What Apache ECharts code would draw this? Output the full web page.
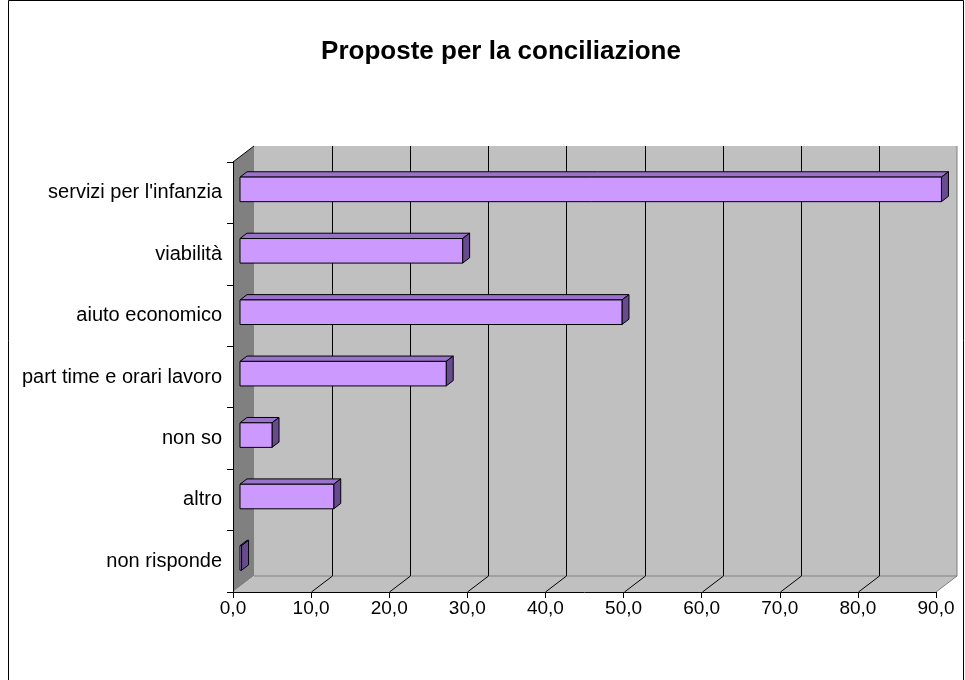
<!DOCTYPE html>
<html><head><meta charset="utf-8">
<script src="https://cdn.jsdelivr.net/npm/echarts@6/dist/echarts.min.js"></script>
<style>html,body{margin:0;padding:0;background:#fff}#c{width:965px;height:680px}</style>
</head><body><div id="c"></div>
<script>
const categories = ["servizi per l'infanzia", "viabilità", "aiuto economico", "part time e orari lavoro", "non so", "altro", "non risponde"];
const values = [89.8, 28.5, 48.9, 26.4, 4.1, 12.0, 0.2];
const xTicks = [0, 10, 20, 30, 40, 50, 60, 70, 80, 90];

const DX = 21, DY = -16;          // depth of the 3D box (back wall offset)
const FONT = "'Liberation Sans', Arial, sans-serif";
const fmt = v => v.toFixed(1).replace('.', ',');

const chart = echarts.init(document.getElementById('c'), null, { renderer: 'canvas' });

// walls: back wall, left side wall and floor
function renderWalls(params, api) {
  const cs = params.coordSys;
  const x0 = cs.x, y0 = cs.y, x1 = cs.x + cs.width, y1 = cs.y + cs.height;
  return {
    type: 'group',
    children: [
      { type: 'polygon', shape: { points: [[x0 + DX, y0 + DY], [x1 + DX, y0 + DY], [x1 + DX, y1 + DY], [x0 + DX, y1 + DY]] },
        style: { fill: '#c0c0c0', stroke: null } },
      { type: 'polygon', shape: { points: [[x0, y0], [x0 + DX, y0 + DY], [x0 + DX, y1 + DY], [x0, y1]] },
        style: { fill: '#808080', stroke: null } },
      { type: 'polygon', shape: { points: [[x0, y1], [x0 + DX, y1 + DY], [x1 + DX, y1 + DY], [x1, y1]] },
        style: { fill: '#c0c0c0', stroke: null } },
      { type: 'polyline', shape: { points: [[x0 + DX, y1 + DY], [x1 + DX, y1 + DY], [x1, y1]] },
        style: { stroke: '#808080', lineWidth: 1, fill: null } },
      { type: 'line', shape: { x1: x1 + DX, y1: y0 + DY, x2: x1 + DX, y2: y1 + DY },
        style: { stroke: '#808080', lineWidth: 1 } },
      { type: 'line', shape: { x1: x0, y1: y0, x2: x0 + DX, y2: y0 + DY },
        style: { stroke: '#000', lineWidth: 1 } }
    ]
  };
}

// grid lines on the back wall and their diagonals across the floor
function renderGridLine(params, api) {
  const cs = params.coordSys;
  const v = api.value(0);
  const x = Math.round(api.coord([v, 0])[0]) + 0.5;
  const top = cs.y + DY, bottom = cs.y + cs.height;
  return {
    type: 'group',
    children: [
      { type: 'line', shape: { x1: x + DX, y1: top, x2: x + DX, y2: bottom + DY }, style: { stroke: '#000', lineWidth: 1 } },
      { type: 'line', shape: { x1: x, y1: bottom, x2: x + DX, y2: bottom + DY }, style: { stroke: '#000', lineWidth: 1 } }
    ]
  };
}

// 3D bars: front face, top face, right side face
function renderBar(params, api) {
  const v = api.value(0), idx = api.value(1);
  const start = api.coord([0, idx]);
  const end = api.coord([v, idx]);
  const band = api.size([0, 1])[1];
  const h = band * 0.4;
  const ox = DX / 3, oy = DY / 3;           // bar sits in the middle third of the depth
  const dx = DX / 3, dy = DY / 3;           // bar depth
  const xa = start[0] + ox, xb = end[0] + ox;
  const yt = start[1] + oy - h / 2 + 2, yb = yt + h;
  const stroke = { stroke: '#000', lineWidth: 1, lineJoin: 'miter' };
  return {
    type: 'group',
    children: [
      { type: 'polygon', shape: { points: [[xa, yt], [xa + dx, yt + dy], [xb + dx, yt + dy], [xb, yt]] },
        style: Object.assign({ fill: '#9a72cc' }, stroke) },
      { type: 'polygon', shape: { points: [[xb, yt], [xb + dx, yt + dy], [xb + dx, yb + dy], [xb, yb]] },
        style: Object.assign({ fill: '#664c8c' }, stroke) },
      { type: 'rect', shape: { x: xa, y: yt, width: xb - xa, height: h },
        style: Object.assign({ fill: '#cc99ff' }, stroke) }
    ]
  };
}

chart.setOption({
  animation: false,
  backgroundColor: '#fff',
  title: {
    text: 'Proposte per la conciliazione',
    left: 496, top: 34, textAlign: 'center',
    textStyle: { fontFamily: FONT, fontSize: 26, fontWeight: 'bold', color: '#000' }
  },
  graphic: [
    { type: 'rect', shape: { x: 8.5, y: 0.5, width: 955, height: 700 }, style: { fill: null, stroke: '#000', lineWidth: 1 }, silent: true, z: 100 }
  ],
  grid: { left: 233, top: 162, width: 703, height: 430 },
  xAxis: {
    type: 'value', min: 0, max: 90, interval: 10, z: 10,
    axisLine: { show: true, lineStyle: { color: '#000', width: 1 } },
    axisTick: { show: true, length: 6, lineStyle: { color: '#000' } },
    splitLine: { show: false },
    axisLabel: { formatter: fmt, color: '#000', fontFamily: FONT, fontSize: 19, margin: 7 }
  },
  yAxis: {
    type: 'category', data: categories, inverse: true, z: 10,
    axisLine: { show: true, lineStyle: { color: '#000', width: 1 } },
    axisTick: { show: true, length: 6, alignWithLabel: false, lineStyle: { color: '#000' } },
    axisLabel: { color: '#000', fontFamily: FONT, fontSize: 20, margin: 11 }
  },
  series: [
    { type: 'custom', name: 'walls', renderItem: renderWalls, data: [[0, 0]], z: 1, silent: true },
    { type: 'custom', name: 'grid', renderItem: renderGridLine, data: xTicks.slice(1, -1).map(v => [v, 0]), z: 2, silent: true },
    { type: 'custom', name: 'Proposte', renderItem: renderBar, data: values.map((v, i) => [v, i]), encode: { x: 0, y: 1 }, z: 3 }
  ]
});
</script></body></html>
